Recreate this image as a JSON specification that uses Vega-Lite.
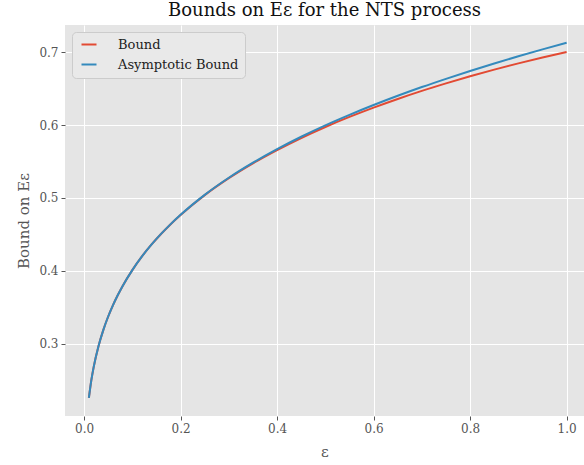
{
  "$schema": "https://vega.github.io/schema/vega-lite/v6.json",
  "width": 519,
  "height": 391,
  "autosize": {"type": "none"},
  "padding": {"left": 65, "top": 25, "right": 0, "bottom": 49},
  "background": "white",
  "title": {
    "text": "Bounds on Eε for the NTS process",
    "font": "DejaVu Serif",
    "fontSize": 18,
    "fontWeight": "normal",
    "color": "#111111",
    "anchor": "middle",
    "offset": 5
  },
  "data": {
    "values": [
      {"eps": 0.01, "value": 0.2255, "series": "Bound"},
      {"eps": 0.015, "value": 0.2495, "series": "Bound"},
      {"eps": 0.02, "value": 0.2681, "series": "Bound"},
      {"eps": 0.03, "value": 0.2967, "series": "Bound"},
      {"eps": 0.04, "value": 0.3189, "series": "Bound"},
      {"eps": 0.05, "value": 0.3372, "series": "Bound"},
      {"eps": 0.06, "value": 0.3529, "series": "Bound"},
      {"eps": 0.07, "value": 0.3667, "series": "Bound"},
      {"eps": 0.08, "value": 0.3792, "series": "Bound"},
      {"eps": 0.10, "value": 0.4009, "series": "Bound"},
      {"eps": 0.12, "value": 0.4197, "series": "Bound"},
      {"eps": 0.14, "value": 0.4361, "series": "Bound"},
      {"eps": 0.16, "value": 0.4508, "series": "Bound"},
      {"eps": 0.18, "value": 0.4643, "series": "Bound"},
      {"eps": 0.20, "value": 0.4766, "series": "Bound"},
      {"eps": 0.25, "value": 0.5038, "series": "Bound"},
      {"eps": 0.30, "value": 0.5271, "series": "Bound"},
      {"eps": 0.35, "value": 0.5475, "series": "Bound"},
      {"eps": 0.40, "value": 0.5657, "series": "Bound"},
      {"eps": 0.45, "value": 0.5823, "series": "Bound"},
      {"eps": 0.50, "value": 0.5974, "series": "Bound"},
      {"eps": 0.55, "value": 0.6112, "series": "Bound"},
      {"eps": 0.60, "value": 0.6240, "series": "Bound"},
      {"eps": 0.65, "value": 0.6359, "series": "Bound"},
      {"eps": 0.70, "value": 0.6470, "series": "Bound"},
      {"eps": 0.75, "value": 0.6573, "series": "Bound"},
      {"eps": 0.80, "value": 0.6670, "series": "Bound"},
      {"eps": 0.85, "value": 0.6761, "series": "Bound"},
      {"eps": 0.90, "value": 0.6847, "series": "Bound"},
      {"eps": 0.95, "value": 0.6927, "series": "Bound"},
      {"eps": 1.00, "value": 0.7003, "series": "Bound"},
      {"eps": 0.01, "value": 0.2255, "series": "Asymptotic Bound"},
      {"eps": 0.015, "value": 0.2495, "series": "Asymptotic Bound"},
      {"eps": 0.02, "value": 0.2681, "series": "Asymptotic Bound"},
      {"eps": 0.03, "value": 0.2967, "series": "Asymptotic Bound"},
      {"eps": 0.04, "value": 0.3189, "series": "Asymptotic Bound"},
      {"eps": 0.05, "value": 0.3372, "series": "Asymptotic Bound"},
      {"eps": 0.06, "value": 0.3529, "series": "Asymptotic Bound"},
      {"eps": 0.07, "value": 0.3667, "series": "Asymptotic Bound"},
      {"eps": 0.08, "value": 0.3792, "series": "Asymptotic Bound"},
      {"eps": 0.10, "value": 0.4009, "series": "Asymptotic Bound"},
      {"eps": 0.12, "value": 0.4197, "series": "Asymptotic Bound"},
      {"eps": 0.14, "value": 0.4361, "series": "Asymptotic Bound"},
      {"eps": 0.16, "value": 0.4509, "series": "Asymptotic Bound"},
      {"eps": 0.18, "value": 0.4644, "series": "Asymptotic Bound"},
      {"eps": 0.20, "value": 0.4768, "series": "Asymptotic Bound"},
      {"eps": 0.25, "value": 0.5042, "series": "Asymptotic Bound"},
      {"eps": 0.30, "value": 0.5277, "series": "Asymptotic Bound"},
      {"eps": 0.35, "value": 0.5484, "series": "Asymptotic Bound"},
      {"eps": 0.40, "value": 0.5670, "series": "Asymptotic Bound"},
      {"eps": 0.45, "value": 0.5840, "series": "Asymptotic Bound"},
      {"eps": 0.50, "value": 0.5996, "series": "Asymptotic Bound"},
      {"eps": 0.55, "value": 0.6140, "series": "Asymptotic Bound"},
      {"eps": 0.60, "value": 0.6275, "series": "Asymptotic Bound"},
      {"eps": 0.65, "value": 0.6402, "series": "Asymptotic Bound"},
      {"eps": 0.70, "value": 0.6522, "series": "Asymptotic Bound"},
      {"eps": 0.75, "value": 0.6635, "series": "Asymptotic Bound"},
      {"eps": 0.80, "value": 0.6743, "series": "Asymptotic Bound"},
      {"eps": 0.85, "value": 0.6846, "series": "Asymptotic Bound"},
      {"eps": 0.90, "value": 0.6945, "series": "Asymptotic Bound"},
      {"eps": 0.95, "value": 0.7039, "series": "Asymptotic Bound"},
      {"eps": 1.00, "value": 0.7130, "series": "Asymptotic Bound"}
    ]
  },
  "mark": {"type": "line", "strokeWidth": 2, "interpolate": "monotone", "clip": true},
  "encoding": {
    "x": {
      "field": "eps",
      "type": "quantitative",
      "title": "ε",
      "scale": {"domain": [-0.0395, 1.036], "nice": false, "zero": false},
      "axis": {"values": [0, 0.2, 0.4, 0.6, 0.8, 1.0], "format": ".1f", "labelFlush": false, "titlePadding": 10}
    },
    "y": {
      "field": "value",
      "type": "quantitative",
      "title": "Bound on Eε",
      "scale": {"domain": [0.2006, 0.7374], "nice": false, "zero": false},
      "axis": {"values": [0.3, 0.4, 0.5, 0.6, 0.7], "format": ".1f", "titlePadding": 7}
    },
    "color": {
      "field": "series",
      "type": "nominal",
      "scale": {"domain": ["Bound", "Asymptotic Bound"], "range": ["#E24A33", "#348ABD"]},
      "legend": {"title": null}
    }
  },
  "config": {
    "view": {"fill": "#E5E5E5", "stroke": null},
    "axis": {
      "domain": false,
      "grid": true,
      "gridColor": "#FFFFFF",
      "gridWidth": 1,
      "tickColor": "#555555",
      "tickSize": 4,
      "tickWidth": 1,
      "labelFont": "DejaVu Serif",
      "labelFontSize": 12,
      "labelColor": "#555555",
      "labelPadding": 3,
      "titleFont": "DejaVu Serif",
      "titleFontSize": 15,
      "titleFontWeight": "normal",
      "titleColor": "#555555"
    },
    "legend": {
      "orient": "top-left",
      "offset": 7,
      "padding": 6,
      "fillColor": "#E9E9E9",
      "strokeColor": "#CCCCCC",
      "cornerRadius": 4,
      "labelFont": "DejaVu Serif",
      "labelFontSize": 13,
      "labelColor": "#222222",
      "symbolType": "M-0.6,0H2.4",
      "symbolSize": 100,
      "symbolStrokeWidth": 2,
      "labelOffset": 27,
      "rowPadding": 6
    }
  }
}
